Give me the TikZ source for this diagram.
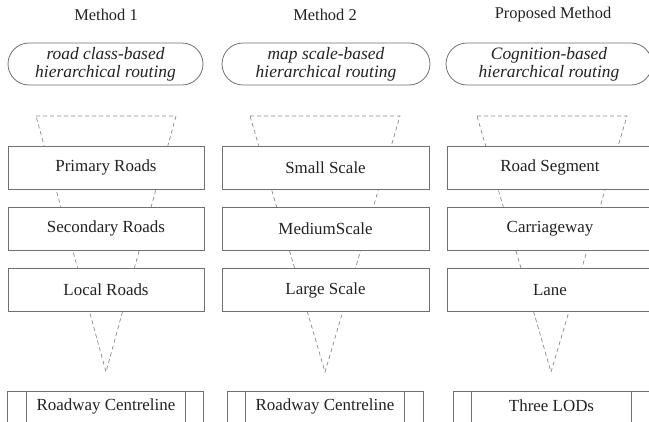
\documentclass[tikz,border=0pt]{standalone}
\usepackage{fontspec}
\setmainfont{Liberation Serif}
\definecolor{linec}{HTML}{707070}
\definecolor{dashc}{HTML}{8A8A8A}
\definecolor{textc}{HTML}{222222}
\begin{document}
\begin{tikzpicture}[x=1bp,y=-1bp,
  every node/.style={text=textc,font=\fontsize{17}{18}\selectfont},
  titlelabel/.style={inner sep=0pt,font=\fontsize{16.5}{18}\selectfont},
  pill/.style={draw=linec,line width=0.8bp,fill=white,rounded corners=21bp,minimum height=42bp,inner sep=0pt,align=center,font=\fontsize{17.5}{18}\selectfont\itshape},
  levelbox/.style={draw=linec,line width=0.8bp,fill=white,minimum height=43bp,inner sep=0pt},
  basebox/.style={draw=linec,line width=0.8bp,fill=white,minimum height=34bp,inner sep=0pt,anchor=north},
  funnel/.style={draw=dashc,line width=0.7bp,dash pattern=on 4bp off 3bp}
]
\useasboundingbox (0,0) rectangle (649,421);
\clip (0,0) rectangle (649,421);
% titles
\node[titlelabel] (t1) at (106,15) {Method 1};
\node[titlelabel] (t2) at (325,15) {Method 2};
\node[titlelabel] (t3) at (553,15) {Proposed Method};
% funnels
\coordinate (f1a) at (36,116); \coordinate (f1b) at (176,116); \coordinate (f1c) at (106,372);
\coordinate (f2a) at (250,116); \coordinate (f2b) at (400,116); \coordinate (f2c) at (325,372);
\coordinate (f3a) at (477,116); \coordinate (f3b) at (627,116); \coordinate (f3c) at (551,372);
\draw[funnel] (f1a) -- (f1b) -- (f1c) -- cycle;
\draw[funnel] (f2a) -- (f2b) -- (f2c) -- cycle;
\draw[funnel] (f3a) -- (f3b) -- (f3c) -- cycle;
% pills
\node[pill,minimum width=195bp] (p1) at (105.5,64) {road class-based\\hierarchical routing};
\node[pill,minimum width=208bp] (p2) at (326,64) {map scale-based\\hierarchical routing};
\node[pill,minimum width=206bp] (p3) at (549,64) {Cognition-based\\hierarchical routing};
% level boxes
\node[levelbox,minimum width=196bp] (a1) at (106,167.5) {Primary Roads};
\node[levelbox,minimum width=196bp] (a2) at (106,228.5) {Secondary Roads};
\node[levelbox,minimum width=196bp] (a3) at (106,290) {Local Roads};
\node[levelbox,minimum width=207bp] (b1) at (325.5,167.5) {Small Scale};
\node[levelbox,minimum width=207bp] (b2) at (325.5,228.5) {MediumScale};
\node[levelbox,minimum width=207bp] (b3) at (325.5,290) {Large Scale};
\node[levelbox,minimum width=206bp] (c1) at (550,167.5) {Road Segment};
\node[levelbox,minimum width=206bp] (c2) at (550,228.5) {Carriageway};
\node[levelbox,minimum width=206bp] (c3) at (550,290) {Lane};
% base boxes
\node[basebox,minimum width=196bp] (r1) at (105.5,391) {};
\node[basebox,minimum width=196bp] (r2) at (325,391) {};
\node[basebox,minimum width=197bp] (r3) at (551.5,391) {};
\node[inner sep=0pt] (r1t) at (106,406) {Roadway Centreline};
\node[inner sep=0pt] (r2t) at (325,406) {Roadway Centreline};
\node[inner sep=0pt] (r3t) at (551.5,406) {Three LODs};
\draw[linec,line width=0.8bp] ([xshift=19bp]r1.north west) -- ([xshift=19bp]r1.south west);
\draw[linec,line width=0.8bp] ([xshift=-19bp]r1.north east) -- ([xshift=-19bp]r1.south east);
\draw[linec,line width=0.8bp] ([xshift=19bp]r2.north west) -- ([xshift=19bp]r2.south west);
\draw[linec,line width=0.8bp] ([xshift=-19bp]r2.north east) -- ([xshift=-19bp]r2.south east);
\draw[linec,line width=0.8bp] ([xshift=19bp]r3.north west) -- ([xshift=19bp]r3.south west);
\draw[linec,line width=0.8bp] ([xshift=-19bp]r3.north east) -- ([xshift=-19bp]r3.south east);
\end{tikzpicture}
\end{document}
